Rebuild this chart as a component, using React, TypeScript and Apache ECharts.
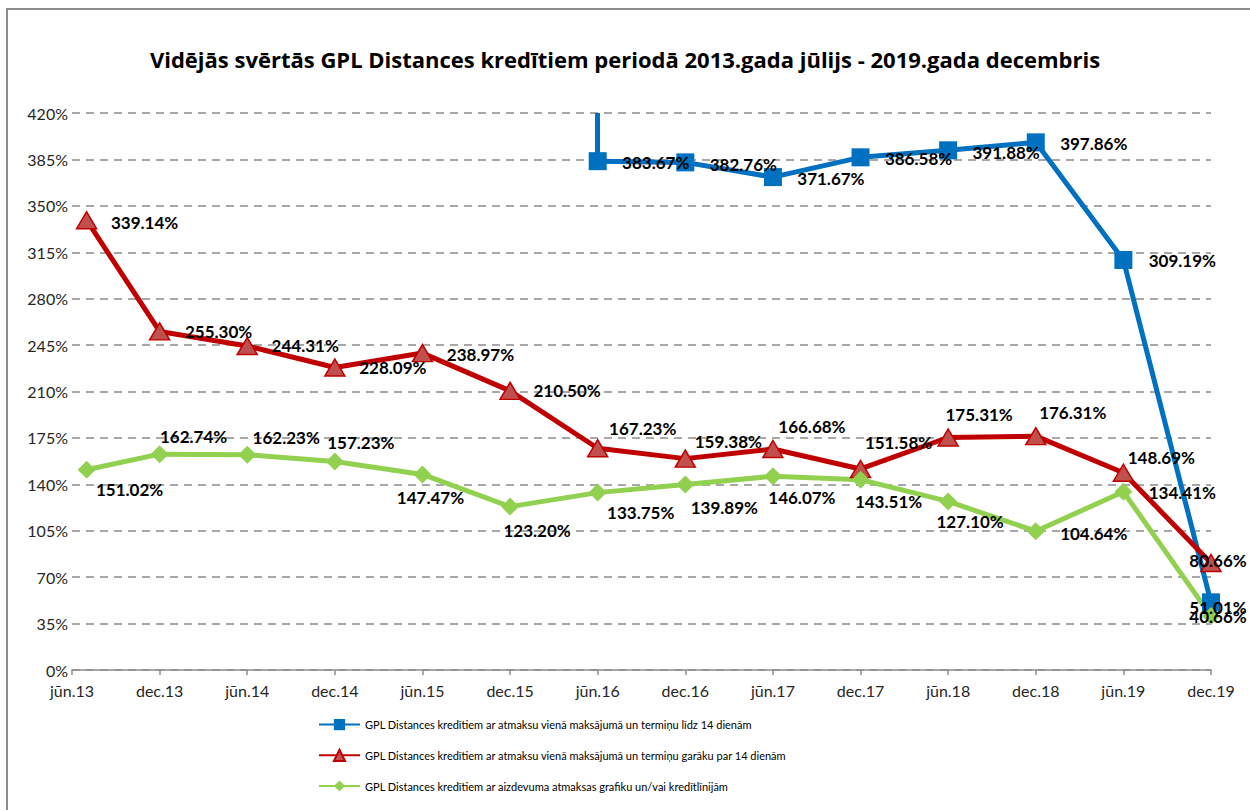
import React, { useEffect, useRef } from "react";
import * as echarts from "echarts";

const titleText =
  "Vidējās svērtās GPL Distances kredītiem periodā 2013.gada jūlijs - 2019.gada decembris";

const tickLabels = [
  "jūn.13", "dec.13", "jūn.14", "dec.14", "jūn.15", "dec.15", "jūn.16",
  "dec.16", "jūn.17", "dec.17", "jūn.18", "dec.18", "jūn.19", "dec.19",
];

const periods = [
  "2013-07", "2013-12", "2014-06", "2014-12", "2015-06", "2015-12", "2016-06",
  "2016-12", "2017-06", "2017-12", "2018-06", "2018-12", "2019-06", "2019-12",
];

const seriesNames = [
  "GPL Distances kredītiem ar atmaksu vienā maksājumā un termiņu līdz 14 dienām",
  "GPL Distances kredītiem ar atmaksu vienā maksājumā un termiņu garāku par 14 dienām",
  "GPL Distances kredītiem ar aizdevuma atmaksas grafiku un/vai kredītlīnijām",
];

const blueValues: (number | null)[] = [
  null, null, null, null, null, null, 383.67,
  382.76, 371.67, 386.58, 391.88, 397.86, 309.19, 51.01,
];
const redValues = [
  339.14, 255.3, 244.31, 228.09, 238.97, 210.5, 167.23,
  159.38, 166.68, 151.58, 175.31, 176.31, 148.69, 80.66,
];
const greenValues = [
  151.02, 162.74, 162.23, 157.23, 147.47, 123.2, 133.75,
  139.89, 146.07, 143.51, 127.1, 104.64, 134.41, 40.66,
];

// label offsets (layout only)
const blueOffsets = [
  [0, 0], [0, 0], [0, 0], [0, 0], [0, 0], [0, 0], [58, 1],
  [58, 2], [58, 1], [58, 1], [58, 2], [58, 1], [59, 1], [7, 5],
];
const redOffsets = [
  [58, 2], [59, 0], [58, 0], [58, 0], [58, 1], [57, 0], [45, -20],
  [43, -17], [39, -22], [38, -26], [31, -23], [37, -24], [38, -15], [7, -3],
];
const greenOffsets = [
  [43, 20], [34, -18], [39, -17], [26, -19], [8, 23], [27, 24], [43, 20],
  [39, 23], [29, 21], [28, 22], [22, 20], [58, 2], [59, 1], [7, 0],
];

const monthIndex = (p: string) => {
  const [y, m] = p.split("-").map(Number);
  return (y - 2013) * 12 + (m - 6);
};

const FONT = "Lato, 'Noto Sans', sans-serif";

function build(values: (number | null)[], offsets: number[][]) {
  const out: any[] = [];
  values.forEach((v, i) => {
    if (v === null) return;
    out.push({
      value: [monthIndex(periods[i]), v],
      label: { offset: offsets[i] },
    });
  });
  return out;
}

const labelBase = {
  show: true,
  position: "inside",
  align: "center",
  verticalAlign: "middle",
  color: "#000",
  fontFamily: FONT,
  fontWeight: "bold",
  fontSize: 17,
  formatter: (p: any) => p.value[1].toFixed(2) + "%",
};

export default function App() {
  const ref = useRef<HTMLDivElement>(null);
  useEffect(() => {
    document.body.style.margin = "0";
    const chart = echarts.init(ref.current!, null, { renderer: "svg" });
    const blueStart = blueValues.findIndex((v) => v !== null);
    chart.setOption({
      animation: false,
      backgroundColor: "#fff",
      textStyle: { fontFamily: FONT },
      title: {
        text: titleText,
        left: "center",
        top: 43,
        textStyle: {
          fontFamily: "'Open Sans', Lato, sans-serif",
          fontWeight: "bold",
          fontSize: 22,
          color: "#000",
        },
      },
      graphic: [
        {
          type: "rect",
          shape: { x: 7, y: 9, width: 1300, height: 900 },
          style: { fill: "none", stroke: "#8c8c8c", lineWidth: 2 },
          z: -10,
          silent: true,
        },
      ],
      grid: {
        left: 72,
        right: 39,
        top: 113,
        bottom: 140,
        containLabel: false,
        outerBoundsMode: "none",
      },
      legend: {
        orient: "vertical",
        left: 313,
        top: 714,
        itemWidth: 41,
        itemHeight: 14,
        itemGap: 18.5,
        textStyle: { fontFamily: FONT, fontSize: 11, color: "#000" },
        data: seriesNames,
      },
      xAxis: {
        type: "value",
        min: 0,
        max: 78,
        interval: 6,
        axisLine: { show: true, lineStyle: { color: "#8c8c8c", width: 1.5 } },
        axisTick: { show: true, length: 5, lineStyle: { color: "#8c8c8c", width: 1.5 } },
        splitLine: { show: false },
        axisLabel: {
          margin: 12,
          fontFamily: FONT,
          fontSize: 16,
          color: "#262626",
          formatter: (v: number) => tickLabels[Math.round(v / 6)] ?? "",
        },
      },
      yAxis: {
        type: "value",
        min: 0,
        max: 420,
        interval: 35,
        axisLine: { show: false },
        axisTick: { show: false },
        splitLine: {
          show: true,
          lineStyle: { color: "#8c8c8c", width: 1.5, type: [8, 6] },
        },
        axisLabel: {
          margin: 4,
          fontFamily: FONT,
          fontSize: 16,
          color: "#262626",
          formatter: (v: number) => v + "%",
        },
      },
      series: [
        {
          name: seriesNames[0],
          type: "line",
          data: build(blueValues, blueOffsets),
          symbol: "rect",
          symbolSize: 18,
          lineStyle: { color: "#0070C0", width: 5 },
          itemStyle: { color: "#0070C0" },
          label: labelBase,
          markLine: {
            silent: true,
            symbol: "none",
            label: { show: false },
            lineStyle: { color: "#0070C0", width: 5, type: "solid" },
            data: [
              [
                { coord: [monthIndex(periods[blueStart]), blueValues[blueStart]] },
                { coord: [monthIndex(periods[blueStart]), 420] },
              ],
            ],
          },
        },
        {
          name: seriesNames[1],
          type: "line",
          data: build(redValues, redOffsets),
          symbol: "triangle",
          symbolSize: [20, 17],
          lineStyle: { color: "#C00000", width: 5 },
          itemStyle: { color: "#C0504D", borderColor: "#C00000", borderWidth: 1.5 },
          label: labelBase,
        },
        {
          name: seriesNames[2],
          type: "line",
          data: build(greenValues, greenOffsets),
          symbol: "diamond",
          symbolSize: 18,
          lineStyle: { color: "#92D050", width: 5 },
          itemStyle: { color: "#92D050" },
          label: labelBase,
        },
      ],
    });
    return () => chart.dispose();
  }, []);
  return <div ref={ref} style={{ width: 1250, height: 810 }} />;
}
